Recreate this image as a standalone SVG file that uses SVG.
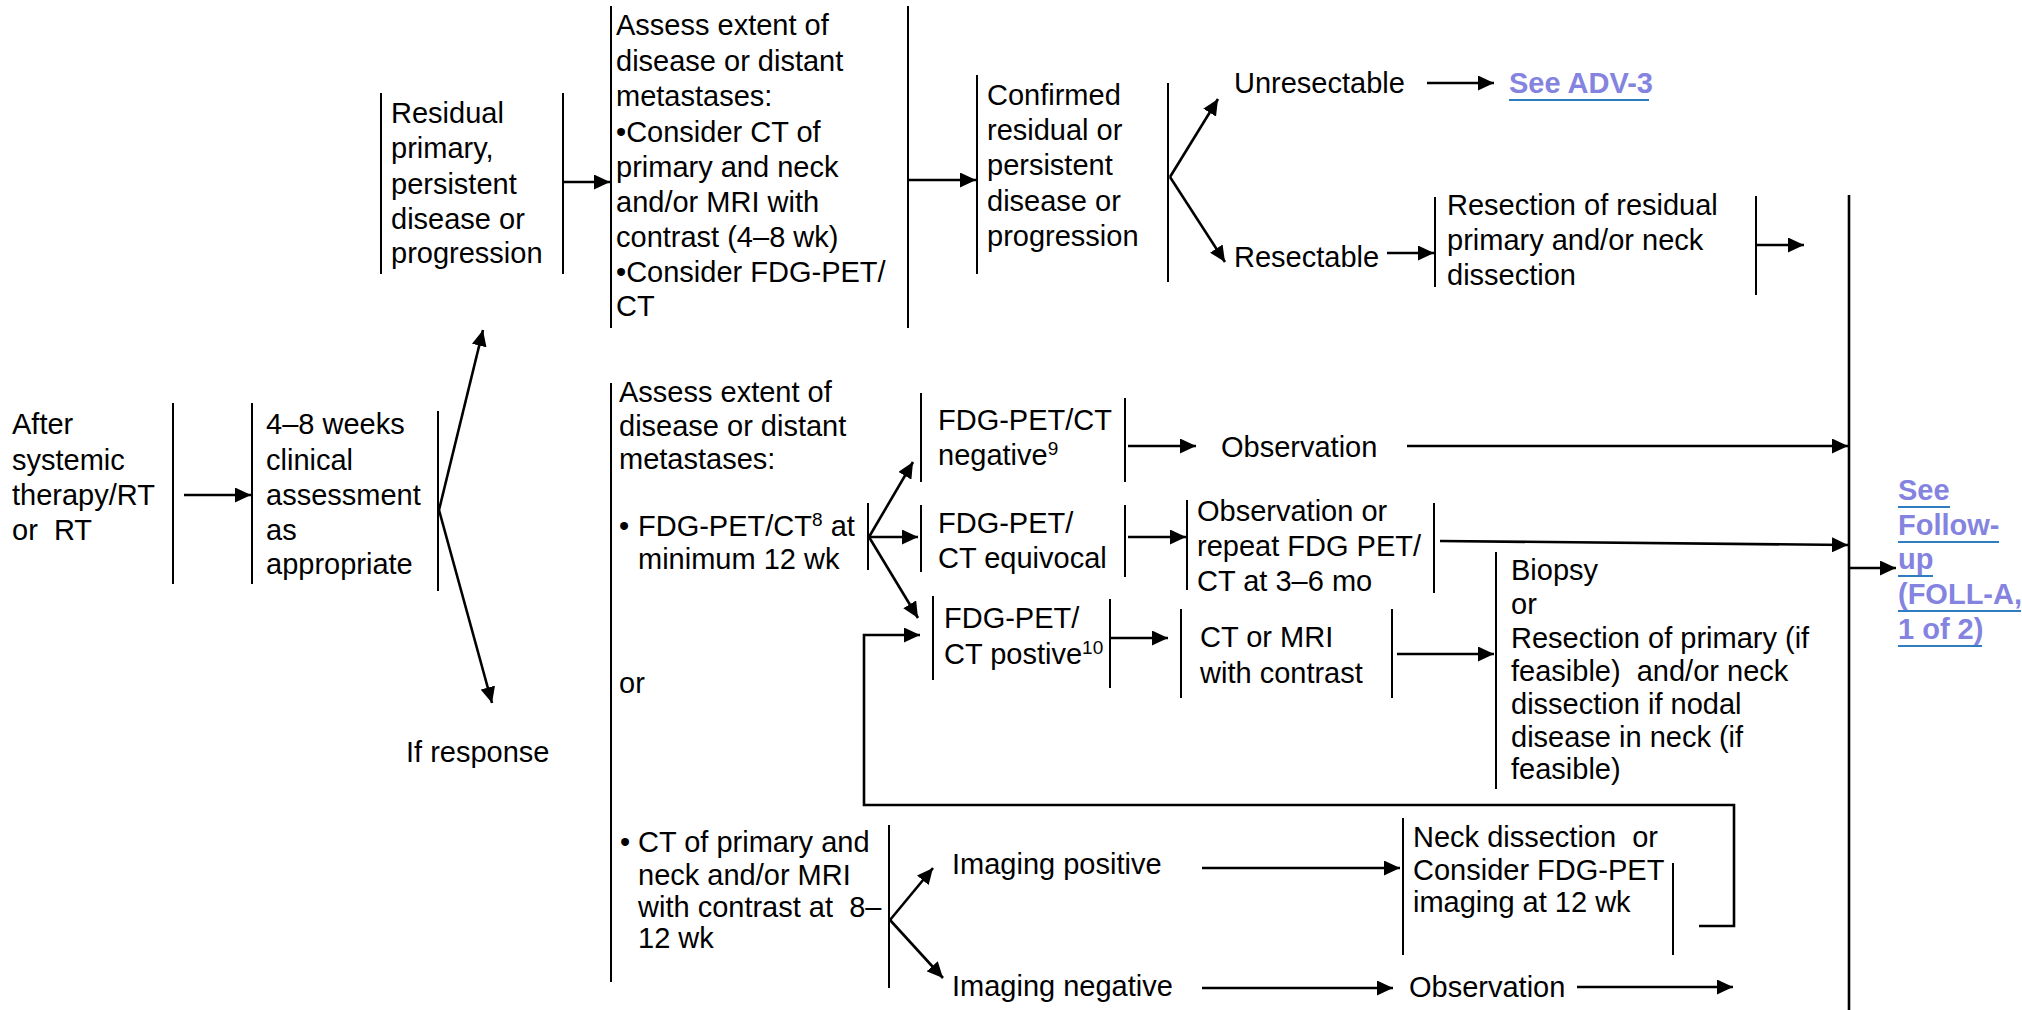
<svg xmlns="http://www.w3.org/2000/svg" width="2022" height="1010" viewBox="0 0 2022 1010">
<defs>
<style>
text{font-family:"Liberation Sans",Arial,sans-serif;font-size:29px;fill:#000}
.bar{stroke:#000;stroke-width:2;fill:none}
.con{stroke:#000;stroke-width:2.6;fill:none}
.link{font-weight:bold;fill:#8484E0}
.ul{stroke:#2F7DC0;stroke-width:2}
.sup{font-size:19px}
</style>
<marker id="ah" markerUnits="userSpaceOnUse" markerWidth="17" markerHeight="15" refX="16" refY="7.5" orient="auto">
<path d="M0,0 L16,7.5 L0,15 z" fill="#000"/>
</marker>
</defs>
<rect width="2022" height="1010" fill="#fff"/>

<g id="node-after">
<text><tspan x="12" y="434">After</tspan><tspan x="12" y="470">systemic</tspan><tspan x="12" y="505">therapy/RT</tspan><tspan x="12" y="540">or&#160; RT</tspan></text>
<line class="bar" x1="173" y1="403" x2="173" y2="584"/>
</g>

<g id="node-clinical">
<line class="bar" x1="252" y1="403" x2="252" y2="584"/>
<text><tspan x="266" y="434">4–8 weeks</tspan><tspan x="266" y="470">clinical</tspan><tspan x="266" y="505">assessment</tspan><tspan x="266" y="540">as</tspan><tspan x="266" y="574">appropriate</tspan></text>
<line class="bar" x1="438" y1="411" x2="438" y2="591"/>
</g>

<g id="node-ifresponse">
<text x="406" y="762">If response</text>
</g>

<g id="node-residual">
<line class="bar" x1="381" y1="93" x2="381" y2="274"/>
<text><tspan x="391" y="123">Residual</tspan><tspan x="391" y="158">primary,</tspan><tspan x="391" y="194">persistent</tspan><tspan x="391" y="229">disease or</tspan><tspan x="391" y="263">progression</tspan></text>
<line class="bar" x1="563" y1="93" x2="563" y2="274"/>
</g>

<g id="node-assess-top">
<line class="bar" x1="611" y1="6" x2="611" y2="328"/>
<text><tspan x="616" y="35">Assess extent of</tspan><tspan x="616" y="71">disease or distant</tspan><tspan x="616" y="106">metastases:</tspan><tspan x="616" y="142">•Consider CT of</tspan><tspan x="616" y="177">primary and neck</tspan><tspan x="616" y="212">and/or MRI with</tspan><tspan x="616" y="247">contrast (4–8 wk)</tspan><tspan x="616" y="282">•Consider FDG-PET/</tspan><tspan x="616" y="316">CT</tspan></text>
<line class="bar" x1="908" y1="6" x2="908" y2="328"/>
</g>

<g id="node-confirmed">
<line class="bar" x1="977" y1="75" x2="977" y2="274"/>
<text><tspan x="987" y="105">Confirmed</tspan><tspan x="987" y="140">residual or</tspan><tspan x="987" y="175">persistent</tspan><tspan x="987" y="211">disease or</tspan><tspan x="987" y="246">progression</tspan></text>
<line class="bar" x1="1168" y1="83" x2="1168" y2="282"/>
</g>

<g id="node-unresectable">
<text x="1234" y="93">Unresectable</text>
</g>

<g id="node-adv3">
<text class="link" x="1509" y="93">See ADV-3</text>
<line class="ul" x1="1509" y1="100" x2="1649" y2="100"/>
</g>

<g id="node-resectable">
<text x="1234" y="267">Resectable</text>
</g>

<g id="node-resection-residual">
<line class="bar" x1="1435" y1="197" x2="1435" y2="287"/>
<text><tspan x="1447" y="215">Resection of residual</tspan><tspan x="1447" y="250">primary and/or neck</tspan><tspan x="1447" y="285">dissection</tspan></text>
<line class="bar" x1="1756" y1="196" x2="1756" y2="295"/>
</g>

<g id="node-assess-bottom">
<line class="bar" x1="611" y1="383" x2="611" y2="982"/>
<text><tspan x="619" y="402">Assess extent of</tspan><tspan x="619" y="436">disease or distant</tspan><tspan x="619" y="469">metastases:</tspan></text>
<text x="619" y="536">•</text>
<text y="536"><tspan x="638">FDG-PET/CT</tspan><tspan class="sup" dy="-10">8</tspan><tspan dy="10"> at</tspan></text>
<text x="638" y="569">minimum 12 wk</text>
<line class="bar" x1="868" y1="503" x2="868" y2="570"/>
<text x="619" y="693">or</text>
<text x="620" y="852">•</text>
<text><tspan x="638" y="852">CT of primary and</tspan><tspan x="638" y="885">neck and/or MRI</tspan><tspan x="638" y="917">with contrast at&#160; 8–</tspan><tspan x="638" y="948">12 wk</tspan></text>
<line class="bar" x1="889" y1="825" x2="889" y2="988"/>
</g>

<g id="node-pet-negative">
<line class="bar" x1="921" y1="393" x2="921" y2="482"/>
<text><tspan x="938" y="430">FDG-PET/CT</tspan><tspan x="938" y="465">negative</tspan><tspan class="sup" dy="-10">9</tspan></text>
<line class="bar" x1="1125" y1="398" x2="1125" y2="482"/>
</g>

<g id="node-observation-1">
<text x="1221" y="457">Observation</text>
</g>

<g id="node-pet-equivocal">
<line class="bar" x1="921" y1="505" x2="921" y2="572"/>
<text><tspan x="938" y="533">FDG-PET/</tspan><tspan x="938" y="568">CT equivocal</tspan></text>
<line class="bar" x1="1125" y1="505" x2="1125" y2="577"/>
</g>

<g id="node-observation-repeat">
<line class="bar" x1="1187" y1="500" x2="1187" y2="590"/>
<text><tspan x="1197" y="521">Observation or</tspan><tspan x="1197" y="556">repeat FDG PET/</tspan><tspan x="1197" y="591">CT at 3–6 mo</tspan></text>
<line class="bar" x1="1434" y1="503" x2="1434" y2="593"/>
</g>

<g id="node-pet-positive">
<line class="bar" x1="933" y1="596" x2="933" y2="680"/>
<text><tspan x="944" y="628">FDG-PET/</tspan><tspan x="944" y="664">CT postive</tspan><tspan class="sup" dy="-10">10</tspan></text>
<line class="bar" x1="1110" y1="599" x2="1110" y2="688"/>
</g>

<g id="node-ct-mri">
<line class="bar" x1="1181" y1="609" x2="1181" y2="698"/>
<text><tspan x="1200" y="647">CT or MRI</tspan><tspan x="1200" y="683">with contrast</tspan></text>
<line class="bar" x1="1392" y1="609" x2="1392" y2="698"/>
</g>

<g id="node-biopsy">
<line class="bar" x1="1496" y1="552" x2="1496" y2="789"/>
<text><tspan x="1511" y="580">Biopsy</tspan><tspan x="1511" y="614">or</tspan><tspan x="1511" y="648">Resection of primary (if</tspan><tspan x="1511" y="681">feasible)&#160; and/or neck</tspan><tspan x="1511" y="714">dissection if nodal</tspan><tspan x="1511" y="747">disease in neck (if</tspan><tspan x="1511" y="779">feasible)</tspan></text>
</g>

<g id="node-imaging-positive">
<text x="952" y="874">Imaging positive</text>
</g>

<g id="node-neck-dissection">
<line class="bar" x1="1403" y1="818" x2="1403" y2="955"/>
<text><tspan x="1413" y="847">Neck dissection&#160; or</tspan><tspan x="1413" y="880">Consider FDG-PET</tspan><tspan x="1413" y="912">imaging at 12 wk</tspan></text>
<line class="bar" x1="1673" y1="863" x2="1673" y2="955"/>
</g>

<g id="node-imaging-negative">
<text x="952" y="996">Imaging negative</text>
</g>

<g id="node-observation-2">
<text x="1409" y="997">Observation</text>
</g>

<g id="node-followup">
<text class="link"><tspan x="1898" y="500">See</tspan><tspan x="1898" y="535">Follow-</tspan><tspan x="1898" y="569">up</tspan><tspan x="1898" y="604">(FOLL-A,</tspan><tspan x="1898" y="639">1 of 2)</tspan></text>
<line class="ul" x1="1898" y1="507" x2="1950" y2="507"/>
<line class="ul" x1="1898" y1="542" x2="1999" y2="542"/>
<line class="ul" x1="1898" y1="576" x2="1933" y2="576"/>
<line class="ul" x1="1898" y1="611" x2="2021" y2="611"/>
<line class="ul" x1="1898" y1="646" x2="1982" y2="646"/>
</g>

<g id="connectors">
<line class="con" x1="184" y1="495" x2="251" y2="495" marker-end="url(#ah)"/>
<line class="con" x1="439" y1="510" x2="483" y2="330" marker-end="url(#ah)"/>
<line class="con" x1="439" y1="510" x2="492" y2="703" marker-end="url(#ah)"/>
<line class="con" x1="563" y1="182" x2="610" y2="182" marker-end="url(#ah)"/>
<line class="con" x1="908" y1="180" x2="976" y2="180" marker-end="url(#ah)"/>
<line class="con" x1="1170" y1="177" x2="1218" y2="99" marker-end="url(#ah)"/>
<line class="con" x1="1170" y1="177" x2="1225" y2="262" marker-end="url(#ah)"/>
<line class="con" x1="1427" y1="83" x2="1494" y2="83" marker-end="url(#ah)"/>
<line class="con" x1="1387" y1="253" x2="1434" y2="253" marker-end="url(#ah)"/>
<line class="con" x1="1756" y1="245" x2="1804" y2="245" marker-end="url(#ah)"/>
<line class="con" x1="1849" y1="195" x2="1849" y2="1010"/>
<line class="con" x1="869" y1="537" x2="913" y2="462" marker-end="url(#ah)"/>
<line class="con" x1="869" y1="537" x2="918" y2="537" marker-end="url(#ah)"/>
<line class="con" x1="869" y1="537" x2="918" y2="618" marker-end="url(#ah)"/>
<line class="con" x1="1128" y1="446" x2="1196" y2="446" marker-end="url(#ah)"/>
<line class="con" x1="1407" y1="446" x2="1848" y2="446" marker-end="url(#ah)"/>
<line class="con" x1="1128" y1="537" x2="1186" y2="537" marker-end="url(#ah)"/>
<line class="con" x1="1440" y1="541" x2="1848" y2="545" marker-end="url(#ah)"/>
<line class="con" x1="1849" y1="568" x2="1896" y2="568" marker-end="url(#ah)"/>
<line class="con" x1="1110" y1="638" x2="1168" y2="638" marker-end="url(#ah)"/>
<line class="con" x1="1397" y1="654" x2="1494" y2="654" marker-end="url(#ah)"/>
<polyline class="con" points="1699,926 1734,926 1734,805 864,805 864,635 920,635" marker-end="url(#ah)"/>
<line class="con" x1="890" y1="920" x2="933" y2="868" marker-end="url(#ah)"/>
<line class="con" x1="890" y1="920" x2="943" y2="978" marker-end="url(#ah)"/>
<line class="con" x1="1202" y1="868" x2="1400" y2="868" marker-end="url(#ah)"/>
<line class="con" x1="1202" y1="988" x2="1393" y2="988" marker-end="url(#ah)"/>
<line class="con" x1="1577" y1="987" x2="1733" y2="987" marker-end="url(#ah)"/>
</g>
</svg>
